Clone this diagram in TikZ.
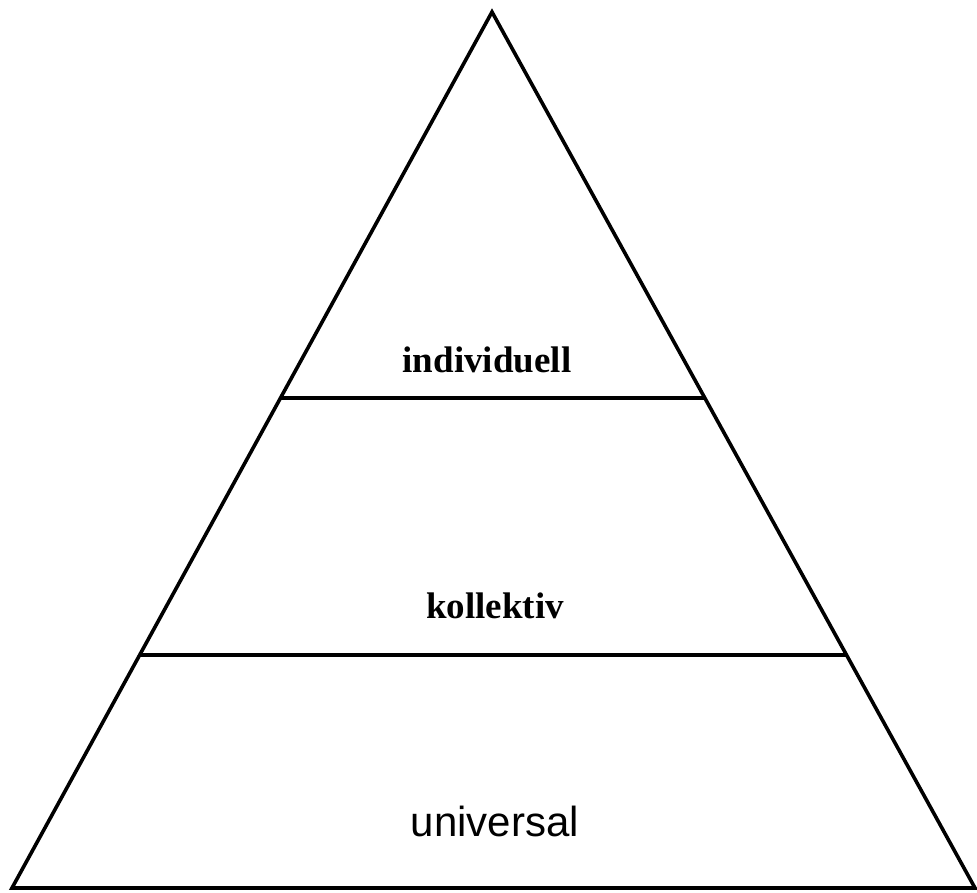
\documentclass[tikz,border=0pt]{standalone}
\usepackage{fontspec}
\setmainfont{Liberation Serif}
\setsansfont{Liberation Sans}
\usetikzlibrary{calc}

\begin{document}
\begin{tikzpicture}[
  x=1pt, y=-1pt,
  outline/.style={line width=3.6pt, line join=miter},
  level/.style={font=\bfseries\fontsize{37}{40}\selectfont, anchor=base, inner sep=0pt},
  bottom/.style={font=\sffamily\fontsize{42}{46}\selectfont, anchor=base, inner sep=0pt}
]
\useasboundingbox (0,0) rectangle (977,893);

\coordinate (top) at (492,12);
\coordinate (left) at (12,888);
\coordinate (right) at (975,888);

\draw[outline] (top) -- (left) -- (right) -- cycle;

% levels
\draw[outline] ($(top)!0.4406!(left)$) -- ($(top)!0.4406!(right)$);
\draw[outline] ($(top)!0.734!(left)$) -- ($(top)!0.734!(right)$);

\node[level] (indiv) at (487,372) {individuell};
\node[level] (koll) at (495,618) {kollektiv};
\node[bottom] (univ) at (495,836) {universal};
\end{tikzpicture}
\end{document}
